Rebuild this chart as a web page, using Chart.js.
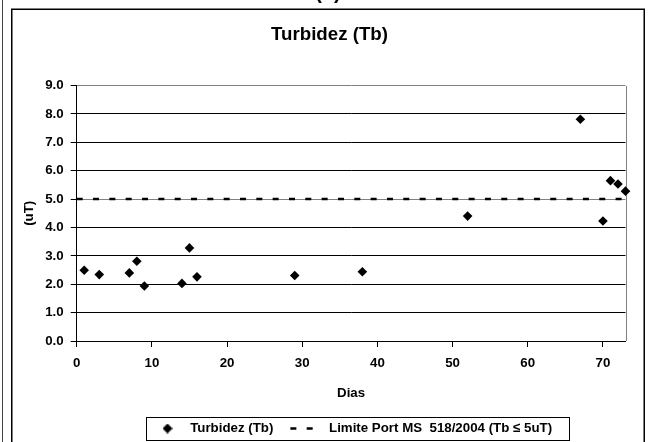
<!DOCTYPE html>
<html>
<head>
<meta charset="utf-8">
<title>Turbidez (Tb)</title>
<script src="https://cdn.jsdelivr.net/npm/chart.js@4.4.0/dist/chart.umd.min.js"></script>
<style>
    html, body { margin: 0; padding: 0; background: #fff; overflow: hidden; }
    #wrap { position: relative; width: 652px; height: 442px; overflow: hidden; }
    #myChart { position: absolute; left: 0; top: 0; }
    #painel {
        position: absolute; left: 300px; top: -19px; width: 56px;
        text-align: center; line-height: 20px;
        font: bold 20px Arial, "Liberation Sans", sans-serif; color: #000;
    }
</style>
</head>
<body>
<div id="wrap">
    <canvas id="myChart" width="652" height="442"></canvas>
    <div id="painel">(b)</div>
</div>
<script>
// dados
var dias = [1, 3, 7, 8, 9, 14, 15, 16, 29, 38, 52, 67, 70, 71, 72, 73];
var turbidez = [2.49, 2.34, 2.40, 2.81, 1.94, 2.03, 3.28, 2.26, 2.31, 2.44, 4.40, 7.81, 4.23, 5.65, 5.53, 5.28];
var limiteDias = [0, 73];
var limiteValor = [5, 5];
var xTicks = [0, 10, 20, 30, 40, 50, 60, 70];
var yTicks = [0, 1, 2, 3, 4, 5, 6, 7, 8, 9];

var fonte = "Arial, 'Liberation Sans', sans-serif";
Chart.defaults.font.family = fonte;
Chart.defaults.font.size = 13.3;
Chart.defaults.font.weight = 'bold';
Chart.defaults.color = '#000';

// marcador do losango na legenda
var diamante = document.createElement('canvas');
diamante.width = 10;
diamante.height = 10;
var dctx = diamante.getContext('2d');
dctx.fillStyle = '#000';
dctx.beginPath();
dctx.moveTo(5, 0);
dctx.lineTo(10, 5);
dctx.lineTo(5, 10);
dctx.lineTo(0, 5);
dctx.closePath();
dctx.fill();

var pontos = dias.map(function (d, i) { return { x: d, y: turbidez[i] }; });
var limite = limiteDias.map(function (d, i) { return { x: d, y: limiteValor[i] }; });

// molduras, caixa da legenda e ajustes de posicao
var moldura = {
    id: 'moldura',
    afterLayout: function (chart) {
        var lg = chart.legend;
        var pad = lg.options.labels.padding;
        var inicio = (lg.left + pad + lg.right - lg.lineWidths[0]) / 2;
        var dx = 151.5 - inicio;
        var dy = 404.85 - lg.top;
        lg.left += dx; lg.right += dx;
        lg.top += dy; lg.bottom += dy;

        var tb = chart.titleBlock;
        var dxt = 329.5 - (tb.left + tb.right) / 2;
        tb.left += dxt; tb.right += dxt;
    },
    beforeDraw: function (chart) {
        var ctx = chart.ctx;
        ctx.save();
        ctx.fillStyle = '#fff';
        ctx.fillRect(0, 0, chart.width, chart.height);
        ctx.strokeStyle = '#444';
        ctx.lineWidth = 1;
        ctx.beginPath();
        ctx.moveTo(2.5, 0);
        ctx.lineTo(2.5, chart.height);
        ctx.stroke();
        ctx.strokeStyle = '#000';
        ctx.lineWidth = 1.5;
        ctx.strokeRect(11.75, 9.25, 632.5, 460);
        ctx.restore();
    },
    beforeDatasetsDraw: function (chart) {
        var a = chart.chartArea;
        var ctx = chart.ctx;
        var xr = Math.round(a.right) + 0.5;
        ctx.save();
        ctx.strokeStyle = '#808080';
        ctx.lineWidth = 1;
        ctx.beginPath();
        ctx.moveTo(xr, Math.round(a.top));
        ctx.lineTo(xr, Math.round(a.bottom));
        ctx.stroke();
        ctx.restore();
    },
    afterDraw: function (chart) {
        var hb = chart.legend.legendHitBoxes;
        if (!hb || !hb.length) return;
        var first = hb[0];
        var last = hb[hb.length - 1];
        var x0 = Math.round(first.left - 5.5) + 0.5;
        var x1 = Math.round(last.left + last.width + 17) + 0.5;
        var y0 = Math.round(first.top - 4.4) + 0.5;
        var y1 = Math.round(first.top + first.height + 4.4) + 0.5;
        var ctx = chart.ctx;
        ctx.save();
        ctx.strokeStyle = '#000';
        ctx.lineWidth = 1;
        ctx.strokeRect(x0, y0, x1 - x0, y1 - y0);
        ctx.restore();
    }
};

var myChart = document.getElementById("myChart").getContext("2d");
var myChart = new Chart(myChart, {
    type: 'scatter',
    data: {
        datasets: [{
            label: 'Turbidez (Tb)',
            data: pontos,
            backgroundColor: '#000',
            borderColor: '#000',
            borderWidth: 0,
            pointStyle: 'rectRot',
            pointRadius: 4.8,
            pointHoverRadius: 4.8,
            clip: false
        }, {
            label: 'Limite Port MS  518/2004 (Tb \u2264 5uT)',
            data: limite,
            showLine: true,
            borderColor: '#000',
            backgroundColor: '#000',
            borderWidth: 2.5,
            borderDash: [6, 10.33],
            pointRadius: 0,
            pointHoverRadius: 0,
            fill: false
        }]
    },
    options: {
        responsive: false,
        animation: false,
        devicePixelRatio: 1,
        events: [],
        layout: {
            padding: { left: 12, right: 26.5, top: 0, bottom: 0 }
        },
        scales: {
            x: {
                type: 'linear',
                min: 0,
                max: 73,
                bounds: 'data',
                afterBuildTicks: function (s) {
                    s.ticks = xTicks.map(function (v) { return { value: v }; });
                },
                afterFit: function (s) { s.height = 60.7; },
                border: { color: '#000', width: 1 },
                grid: { drawOnChartArea: false, tickLength: 6, tickColor: '#000', color: '#000' },
                ticks: { padding: 8, maxRotation: 0, autoSkip: false, color: '#000' },
                title: { display: true, text: 'Dias', color: '#000', padding: { top: 3.7, bottom: 0 } }
            },
            y: {
                min: 0,
                max: 9,
                bounds: 'data',
                afterBuildTicks: function (s) {
                    s.ticks = yTicks.map(function (v) { return { value: v }; });
                },
                afterFit: function (s) { s.width = 64.7; },
                border: { color: '#000', width: 1 },
                grid: {
                    color: function (c) {
                        if (c.tick && (c.tick.value === 9 || c.tick.value === 5)) return '#808080';
                        return '#000';
                    },
                    tickColor: '#000',
                    tickLength: 6,
                    lineWidth: 1
                },
                ticks: {
                    padding: 7,
                    color: '#000',
                    callback: function (v) { return Number(v).toFixed(1); }
                },
                title: { display: true, text: '(uT)', color: '#000', padding: { top: 9, bottom: 0 } }
            }
        },
        plugins: {
            title: {
                display: true,
                text: 'Turbidez (Tb)',
                color: '#000',
                font: { size: 18.7, weight: 'bold' },
                padding: { top: 23.3, bottom: 39.8 }
            },
            legend: {
                position: 'bottom',
                labels: {
                    usePointStyle: true,
                    pointStyleWidth: 32,
                    boxHeight: 13.3,
                    padding: 17,
                    color: '#000',
                    generateLabels: function (chart) {
                        var itens = Chart.defaults.plugins.legend.labels.generateLabels(chart);
                        itens[0].pointStyle = diamante;
                        itens[1].pointStyle = 'line';
                        itens[1].lineDash = [6, 10.33];
                        itens[1].lineDashOffset = 0;
                        itens[1].lineWidth = 2.5;
                        itens[1].strokeStyle = '#000';
                        return itens;
                    }
                }
            },
            tooltip: { enabled: false }
        }
    },
    plugins: [moldura]
});
</script>
</body>
</html>
